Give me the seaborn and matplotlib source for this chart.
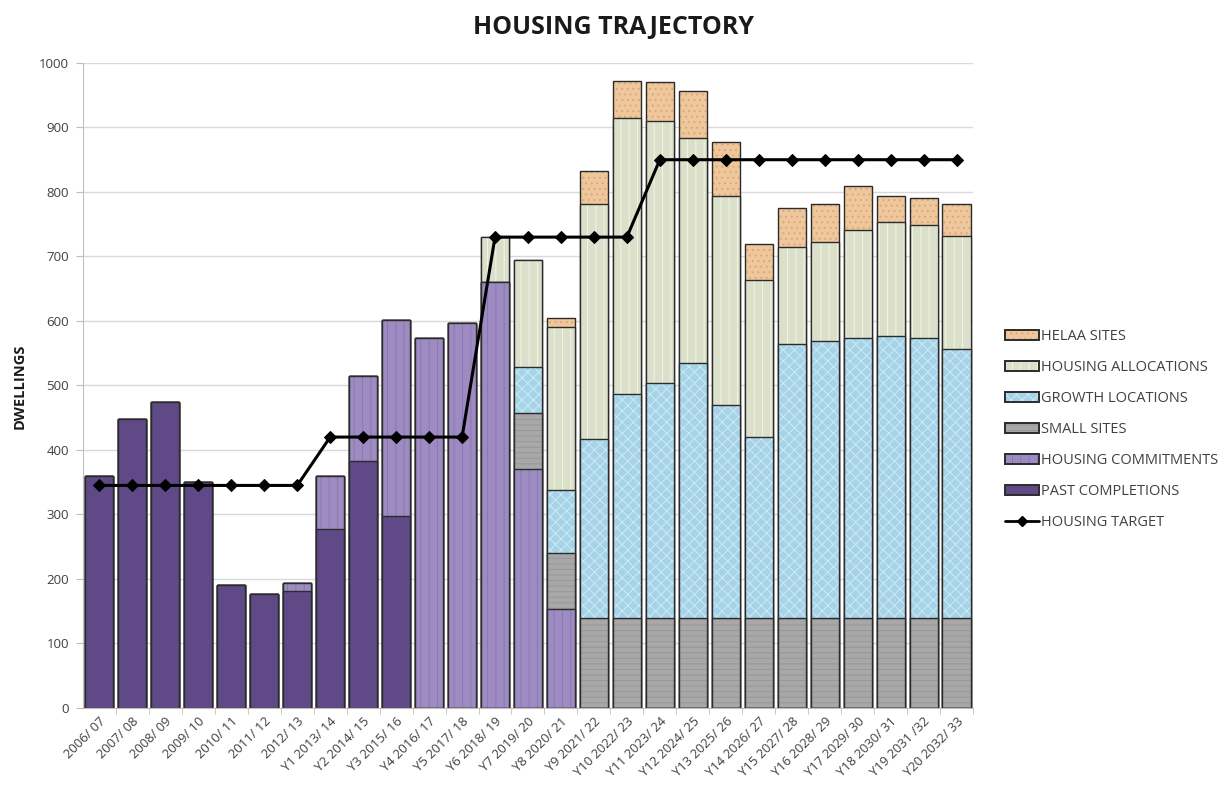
import numpy as np
import matplotlib
matplotlib.use("Agg")
import matplotlib.pyplot as plt
from matplotlib.patches import Patch
from matplotlib.lines import Line2D
import seaborn as sns

# x categories (financial years)
years = ["2006/ 07", "2007/ 08", "2008/ 09", "2009/ 10", "2010/ 11", "2011/ 12", "2012/ 13",
         "Y1 2013/ 14", "Y2 2014/ 15", "Y3 2015/ 16", "Y4 2016/ 17", "Y5 2017/ 18",
         "Y6 2018/ 19", "Y7 2019/ 20", "Y8 2020/ 21", "Y9 2021/ 22", "Y10 2022/ 23",
         "Y11 2023/ 24", "Y12 2024/ 25", "Y13 2025/ 26", "Y14 2026/ 27", "Y15 2027/ 28",
         "Y16 2028/ 29", "Y17 2029/ 30", "Y18 2030/ 31", "Y19 2031 /32", "Y20 2032/ 33"]

# stacked series, bottom to top
past_completions = [360, 448, 475, 351, 191, 177, 182, 277, 383, 297,
                    0, 0, 0, 0, 0, 0, 0, 0, 0, 0, 0, 0, 0, 0, 0, 0, 0]
housing_commitments = [0, 0, 0, 0, 0, 0, 12, 83, 132, 304, 573, 597, 660, 371, 153,
                       0, 0, 0, 0, 0, 0, 0, 0, 0, 0, 0, 0]
small_sites = [0, 0, 0, 0, 0, 0, 0, 0, 0, 0, 0, 0, 0, 87, 87,
               140, 140, 140, 140, 140, 140, 140, 140, 140, 140, 140, 140]
growth_locations = [0, 0, 0, 0, 0, 0, 0, 0, 0, 0, 0, 0, 0, 71, 98,
                    277, 347, 364, 395, 330, 280, 424, 429, 433, 437, 433, 416]
housing_allocations = [0, 0, 0, 0, 0, 0, 0, 0, 0, 0, 0, 0, 70, 166, 253,
                       365, 427, 406, 349, 323, 243, 151, 153, 168, 176, 176, 176]
helaa_sites = [0, 0, 0, 0, 0, 0, 0, 0, 0, 0, 0, 0, 0, 0, 14,
               50, 58, 61, 72, 85, 57, 60, 60, 69, 41, 42, 50]

housing_target = [345, 345, 345, 345, 345, 345, 345, 420, 420, 420, 420, 420,
                  730, 730, 730, 730, 730, 850, 850, 850, 850, 850, 850, 850, 850, 850, 850]

sns.set_style("white")
plt.rcParams["font.family"] = ["Open Sans", "DejaVu Sans"]
plt.rcParams["hatch.linewidth"] = 0.7

# (label, values, fill colour, hatch colour, hatch)
layers = [
    ("PAST COMPLETIONS", past_completions, "#5f4987", "#5f4987", None),
    ("HOUSING COMMITMENTS", housing_commitments, "#9d8bc2", "#8a78b0", "||"),
    ("SMALL SITES", small_sites, "#a8a8a8", "#979797", "---"),
    ("GROWTH LOCATIONS", growth_locations, "#a6d3e8", "#cdeaf5", "xxx"),
    ("HOUSING ALLOCATIONS", housing_allocations, "#dbe0cb", "#f3f4e4", "||"),
    ("HELAA SITES", helaa_sites, "#efc79c", "#dca676", "..."),
]

fig = plt.figure(figsize=(12.31, 7.96), dpi=100)
ax = fig.add_axes([0.0674, 0.1106, 0.723, 0.8103])

# stacked bars: draw cumulative totals from the top layer down
cum = np.cumsum([np.array(l[1]) for l in layers], axis=0)
edge = "#2b2b2b"
for i in reversed(range(len(layers))):
    label, vals, fc, hc, hatch = layers[i]
    sns.barplot(x=years, y=cum[i], color=fc, saturation=1, width=0.85,
                edgecolor=hc, hatch=hatch, linewidth=0, ax=ax)
    sns.barplot(x=years, y=cum[i], color=edge, fill=False, width=0.85,
                linewidth=1.0, ax=ax)

sns.lineplot(x=years, y=housing_target, sort=False, color="black", linewidth=2.2,
             marker="D", markersize=6, markeredgecolor="black", ax=ax)

ax.set_xlim(-0.5, len(years) - 0.5)
ax.set_ylim(0, 1000)
ax.set_yticks(range(0, 1001, 100))
ax.yaxis.grid(True, color="#d9d9d9", linewidth=1)
ax.set_axisbelow(True)
ax.set_xlabel("")
ax.set_ylabel("")
for s in ["top", "right"]:
    ax.spines[s].set_visible(False)
for s in ["left", "bottom"]:
    ax.spines[s].set_color("#bfbfbf")
ax.tick_params(axis="y", length=5, color="#bfbfbf", labelsize=9.5, labelcolor="#404040", pad=5, left=True)
ax.tick_params(axis="x", length=0, labelsize=9.4, labelcolor="#404040", pad=5)
ax.set_xticks(np.arange(len(years)) + 0.5, minor=True)
ax.tick_params(axis="x", which="minor", length=4, color="#bfbfbf", bottom=True)
plt.setp(ax.get_xticklabels(), rotation=45, ha="right", rotation_mode="anchor")

fig.text(0.498, 0.966, "HOUSING TRAJECTORY", ha="center", va="center",
         fontsize=18, fontweight="bold", color="#1a1a1a")
fig.text(0.016, 0.515, "DWELLINGS", rotation=90, ha="center", va="center",
         fontsize=10.5, fontweight="bold", color="#1a1a1a")

handles = []
labels = []
for label, vals, fc, hc, hatch in reversed(layers):
    handles.append((Patch(facecolor=fc, edgecolor=hc, hatch=hatch, linewidth=0),
                    Patch(fill=False, edgecolor=edge, linewidth=1.4)))
    labels.append(label)
handles.append(Line2D([0], [0], color="black", linewidth=2, marker="D", markersize=5))
labels.append("HOUSING TARGET")
fig.legend(handles, labels, loc="upper left", bbox_to_anchor=(0.806, 0.603),
           frameon=False, fontsize=10.5, labelspacing=1.1, handlelength=2.3,
           handleheight=0.65, handletextpad=0.15, labelcolor="#404040")

fig.savefig("out.png", dpi=100)
